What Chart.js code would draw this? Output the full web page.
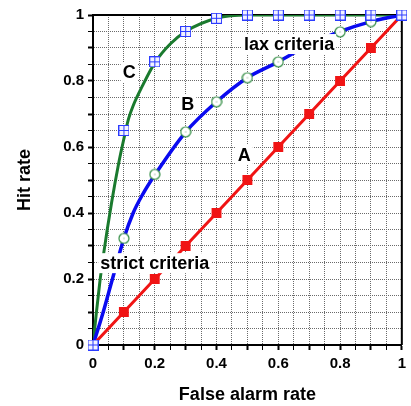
<!DOCTYPE html>
<html>
<head>
<meta charset="utf-8">
<script src="https://cdn.jsdelivr.net/npm/chart.js@4.4.1/dist/chart.umd.min.js"></script>
<style>
  html, body { margin: 0; padding: 0; background: #fff; }
  #grafica { display: block; }
</style>
</head>
<body>
<canvas id="grafica" width="411" height="406"></canvas>
<script>
// Valores (marcadores)
const tasaFalsaAlarma = [0, 0.1, 0.2, 0.3, 0.4, 0.5, 0.6, 0.7, 0.8, 0.9, 1];
const aciertosA = [0, 0.1, 0.2, 0.3, 0.4, 0.5, 0.6, 0.7, 0.8, 0.9, 1];
const aciertosB = [0, 0.323, 0.517, 0.646, 0.737, 0.81, 0.858, 0.91, 0.949, 0.98, 1];
const aciertosC = [0, 0.65, 0.858, 0.95, 0.99, 1, 1, 1, 1, 1, 1];

// Trazo de las curvas B y C, leído punto a punto de la figura
const curvaBX = [0, 0.03, 0.06, 0.1, 0.13, 0.16, 0.2, 0.3, 0.4, 0.5, 0.6, 0.7, 0.8, 0.9, 1];
const curvaBY = [0, 0.09, 0.19, 0.323, 0.4, 0.455, 0.515, 0.645, 0.737, 0.81, 0.858, 0.91, 0.95, 0.98, 1];
const curvaCX = [0, 0.01, 0.022, 0.035, 0.06, 0.083, 0.1, 0.115, 0.13, 0.16, 0.2, 0.25, 0.3, 0.4, 0.5, 0.6, 0.7, 0.8, 0.9, 1];
const curvaCY = [0, 0.09, 0.19, 0.28, 0.43, 0.55, 0.625, 0.685, 0.725, 0.785, 0.855, 0.912, 0.95, 0.99, 1, 1, 1, 1, 1, 1];

// Rótulos dentro del área de la gráfica
const rotulos = ['C', 'B', 'A', 'lax criteria', 'strict criteria'];
const rotulosX = [0.117, 0.307, 0.49, 0.635, 0.2];
const rotulosY = [0.827, 0.73, 0.576, 0.912, 0.248];

const fuente = '"Liberation Sans", Arial, Helvetica, sans-serif';

function puntos(xs, ys) {
  return xs.map((x, i) => ({ x: x, y: ys[i] }));
}

// Marcador cuadrado con cruz (curva C)
function marcaCuadroCruz() {
  const c = document.createElement('canvas');
  c.width = c.height = 11;
  const g = c.getContext('2d');
  g.fillStyle = '#f2f2ff';
  g.fillRect(0, 0, 11, 11);
  g.strokeStyle = '#2b3bff';
  g.lineWidth = 1;
  g.strokeRect(0.5, 0.5, 10, 10);
  g.beginPath();
  g.moveTo(5.5, 1); g.lineTo(5.5, 10);
  g.moveTo(1, 5.5); g.lineTo(10, 5.5);
  g.stroke();
  return c;
}

// Marcador circular hueco con punto central (curva B)
function marcaCirculo() {
  const c = document.createElement('canvas');
  c.width = c.height = 12;
  const g = c.getContext('2d');
  g.beginPath();
  g.arc(6, 6, 5, 0, Math.PI * 2);
  g.fillStyle = '#fff';
  g.fill();
  g.strokeStyle = '#2e8b40';
  g.lineWidth = 1.2;
  g.stroke();
  g.fillStyle = '#6a9a70';
  g.fillRect(5.5, 5.5, 1, 1);
  return c;
}

function etiquetaTick(v) {
  const r = Math.round(v * 20);
  return r % 4 === 0 ? String(Math.round(v * 10) / 10) : '';
}

function anchoTick(ctx) {
  const v = ctx.tick ? ctx.tick.value : 0;
  return Math.round(v * 20) % 2 === 0 ? 2 : 1;
}

// Sin marcador en los extremos
function radioInterior(ctx) {
  const x = ctx.raw ? ctx.raw.x : 0;
  return x > 0 && x < 1 ? 7 : 0;
}

const marcoYRotulos = {
  id: 'marcoYRotulos',
  beforeDatasetsDraw(chart) {
    const { ctx, chartArea: a } = chart;
    ctx.save();
    ctx.strokeStyle = '#000';
    ctx.lineWidth = 2;
    ctx.beginPath();
    ctx.moveTo(a.left, a.top);
    ctx.lineTo(a.right, a.top);
    ctx.lineTo(a.right, a.bottom);
    ctx.stroke();
    ctx.restore();
  },
  afterDatasetsDraw(chart) {
    const { ctx, scales: { x, y } } = chart;
    ctx.save();
    ctx.font = 'bold 18px ' + fuente;
    ctx.textAlign = 'center';
    ctx.textBaseline = 'middle';
    rotulos.forEach((texto, i) => {
      const px = x.getPixelForValue(rotulosX[i]);
      const py = y.getPixelForValue(rotulosY[i]);
      const ancho = ctx.measureText(texto).width;
      ctx.fillStyle = '#fff';
      ctx.fillRect(px - ancho / 2 - 2, py - 10, ancho + 4, 20);
      ctx.fillStyle = '#000';
      ctx.fillText(texto, px, py + 1);
    });
    ctx.restore();
  }
};

function ejeConfig(titulo, esX) {
  return {
    type: 'linear',
    min: 0,
    max: 1,
    afterFit: (s) => { if (esX) { s.height = 61; } else { s.width = 93; } },
    border: { display: true, color: '#000', width: 2, dash: [1, 1] },
    grid: {
      color: '#6a6a6a',
      lineWidth: 1,
      tickColor: '#000',
      tickLength: 5,
      tickWidth: anchoTick
    },
    ticks: {
      stepSize: 0.05,
      autoSkip: false,
      maxRotation: 0,
      padding: esX ? 5 : 4,
      color: '#000',
      font: { family: fuente, size: 15, weight: 'bold' },
      callback: etiquetaTick
    },
    title: {
      display: true,
      text: titulo,
      color: '#000',
      font: { family: fuente, size: 18, weight: 'bold' },
      padding: esX ? { top: 0, bottom: 0 } : { top: 14, bottom: 0 }
    }
  };
}

function crearGrafica() {
  const ctx = document.getElementById('grafica').getContext('2d');
  new Chart(ctx, {
    type: 'scatter',
    data: {
      datasets: [
        {
          label: 'C marcas',
          data: puntos(tasaFalsaAlarma, aciertosC),
          showLine: false,
          pointStyle: marcaCuadroCruz(),
          pointRadius: 6,
          clip: false,
          order: 0
        },
        {
          label: 'B marcas',
          data: puntos(tasaFalsaAlarma, aciertosB),
          showLine: false,
          pointStyle: marcaCirculo(),
          pointRadius: radioInterior,
          clip: false,
          order: 1
        },
        {
          label: 'A',
          data: puntos(tasaFalsaAlarma, aciertosA),
          showLine: true,
          borderColor: '#f01414',
          borderWidth: 3,
          backgroundColor: '#f01414',
          pointStyle: 'rect',
          pointRadius: radioInterior,
          pointBorderWidth: 0,
          order: 2
        },
        {
          label: 'B',
          data: puntos(curvaBX, curvaBY),
          showLine: true,
          borderColor: '#0a0af0',
          borderWidth: 3.5,
          cubicInterpolationMode: 'monotone',
          pointRadius: 0,
          order: 3
        },
        {
          label: 'C',
          data: puntos(curvaCX, curvaCY),
          showLine: true,
          borderColor: '#1a7a2e',
          borderWidth: 3,
          cubicInterpolationMode: 'monotone',
          pointRadius: 0,
          clip: 0,
          order: 4
        }
      ]
    },
    options: {
      responsive: false,
      animation: false,
      layout: { autoPadding: false, padding: { left: 0, top: 15, right: 2, bottom: 0 } },
      plugins: { legend: { display: false }, tooltip: { enabled: false } },
      scales: {
        x: ejeConfig('False alarm rate', true),
        y: ejeConfig('Hit rate', false)
      }
    },
    plugins: [marcoYRotulos]
  });
}

document.addEventListener('DOMContentLoaded', crearGrafica);
</script>
</body>
</html>
